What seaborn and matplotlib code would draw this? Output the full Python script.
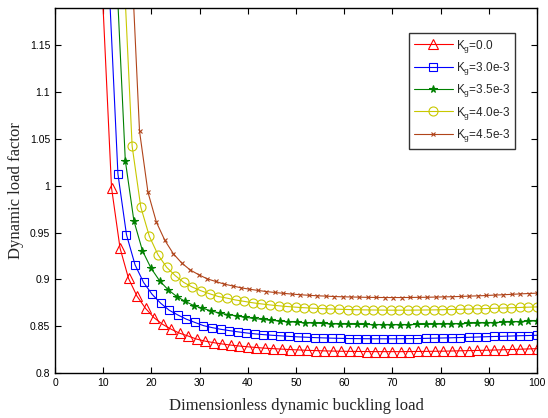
"""Dynamic load factor vs dimensionless dynamic buckling load."""

import seaborn as sns
import matplotlib.pyplot as plt
import pandas as pd
import numpy as np

sns.set_style("ticks")
plt.rcParams['font.family'] = ['Liberation Sans', 'DejaVu Sans']
plt.rcParams['mathtext.fontset'] = 'custom'
plt.rcParams['mathtext.rm'] = 'Liberation Sans'

# ---- data ----
labels = ['K$_\\mathregular{g}$=0.0', 'K$_\\mathregular{g}$=3.0e-3',
          'K$_\\mathregular{g}$=3.5e-3', 'K$_\\mathregular{g}$=4.0e-3',
          'K$_\\mathregular{g}$=4.5e-3']

# sample grid of each curve: first visible point, count (last point at 100)
x_start = [11.72, 13.05, 14.58, 16.00, 17.53]
x_count = [51, 50, 49, 48, 48]
# one point above the top edge so the curves run off the axes
x_lead = [9.43, 10.9, 12.55, 14.1, 15.8]
y_lead = [1.25, 1.25, 1.25, 1.25, 1.25]

y_k00 = [0.998, 0.9335, 0.901, 0.882, 0.869, 0.859, 0.852, 0.8468, 0.8425, 0.8395,
         0.8362, 0.834, 0.8324, 0.831, 0.8298, 0.8288, 0.828, 0.8272, 0.8265, 0.826,
         0.8255, 0.825, 0.8246, 0.8242, 0.8239, 0.8236, 0.8234, 0.8232, 0.8231, 0.823,
         0.8229, 0.8228, 0.8228, 0.8228, 0.8228, 0.8229, 0.823, 0.8231, 0.8232, 0.8233,
         0.8235, 0.8237, 0.8239, 0.8241, 0.8243, 0.8245, 0.8248, 0.8251, 0.8254, 0.8257,
         0.826]
y_k30 = [1.0126, 0.9478, 0.9156, 0.8967, 0.884, 0.8745, 0.867, 0.862, 0.8575, 0.854,
         0.8506, 0.8485, 0.8467, 0.8453, 0.844, 0.8428, 0.8418, 0.841, 0.8403, 0.8397,
         0.8391, 0.8386, 0.8382, 0.8378, 0.8375, 0.8372, 0.837, 0.8368, 0.8367, 0.8366,
         0.8365, 0.8365, 0.8365, 0.8366, 0.8367, 0.8368, 0.837, 0.8372, 0.8374, 0.8376,
         0.8379, 0.8381, 0.8384, 0.8387, 0.839, 0.8392, 0.8395, 0.8398, 0.84, 0.8403]
y_k35 = [1.027, 0.9627, 0.9306, 0.912, 0.8985, 0.8889, 0.8817, 0.8764, 0.872, 0.8692,
         0.8664, 0.864, 0.8624, 0.861, 0.8595, 0.8583, 0.8572, 0.8563, 0.8555, 0.8548,
         0.8542, 0.8537, 0.8533, 0.8529, 0.8526, 0.8523, 0.8521, 0.8519, 0.8518, 0.8517,
         0.8516, 0.8516, 0.8516, 0.8517, 0.8518, 0.8519, 0.8521, 0.8523, 0.8525, 0.8527,
         0.853, 0.8533, 0.8536, 0.8539, 0.8542, 0.8546, 0.855, 0.8554, 0.8557]
y_k40 = [1.0423, 0.9774, 0.946, 0.9263, 0.913, 0.904, 0.8967, 0.8917, 0.8878, 0.8846,
         0.8817, 0.880, 0.878, 0.8765, 0.875, 0.8738, 0.8727, 0.8718, 0.871, 0.8703,
         0.8697, 0.8692, 0.8688, 0.8684, 0.8681, 0.8678, 0.8676, 0.8674, 0.8673, 0.8672,
         0.8671, 0.8671, 0.8671, 0.8672, 0.8673, 0.8674, 0.8676, 0.8678, 0.868, 0.8682,
         0.8685, 0.8688, 0.8691, 0.8694, 0.8697, 0.87, 0.8703, 0.8706]
y_k45 = [1.0584, 0.993, 0.961, 0.9416, 0.9274, 0.9174, 0.910, 0.905, 0.9006, 0.8978,
         0.895, 0.893, 0.891, 0.8895, 0.8882, 0.887, 0.886, 0.8851, 0.8843, 0.8836,
         0.883, 0.8825, 0.8821, 0.8817, 0.8814, 0.8812, 0.881, 0.8808, 0.8807, 0.8806,
         0.8806, 0.8806, 0.8807, 0.8808, 0.8809, 0.8811, 0.8813, 0.8815, 0.8818, 0.8821,
         0.8824, 0.8828, 0.8832, 0.8836, 0.884, 0.8845, 0.8849, 0.8853]
y_all = [y_k00, y_k30, y_k35, y_k40, y_k45]

colors = ['#ff0000', '#0000ff', '#008000', '#c8c800', '#b0441a']
markers = ['^', 's', '*', 'o', 'x']
msizes = [7, 6, 5.5, 6.5, 3.5]
mfaces = ['none', 'none', '#008000', 'none', '#b0441a']

rows = []
for lab, x0, n, xl, yl, ys in zip(labels, x_start, x_count, x_lead, y_lead, y_all):
    xs = np.linspace(x0, 100, n)
    rows.append(pd.DataFrame({'load': np.r_[xl, xs], 'factor': np.r_[yl, ys], 'Kg': lab}))
df = pd.concat(rows, ignore_index=True)

fig = plt.figure(figsize=(5.48, 4.18), dpi=100)
ax = fig.add_axes([0.1004, 0.1077, 0.8796, 0.8733])

for lab, c, m, ms, mf in zip(labels, colors, markers, msizes, mfaces):
    d = df[df['Kg'] == lab]
    sns.lineplot(data=d, x='load', y='factor', ax=ax, color=c, marker=m,
                 markersize=ms, markerfacecolor=mf, markeredgecolor=c,
                 markeredgewidth=0.8, linewidth=0.8, label=lab, estimator=None,
                 sort=False)

ax.set_xlim(0, 100)
ax.set_ylim(0.8, 1.19)
ax.set_xticks(np.arange(0, 101, 10))
ax.set_yticks([0.8, 0.85, 0.9, 0.95, 1.0, 1.05, 1.1, 1.15])
ax.set_yticklabels(['0.8', '0.85', '0.9', '0.95', '1', '1.05', '1.1', '1.15'])
ax.tick_params(direction='in', top=True, right=True, labelsize=7.5, length=4,
               width=0.8, colors='black')
for sp in ax.spines.values():
    sp.set_linewidth(1.0)
    sp.set_color('black')

ax.set_xlabel('Dimensionless dynamic buckling load', family='Liberation Serif',
              fontsize=12, labelpad=7)
ax.set_ylabel('Dynamic load factor', family='Liberation Serif', fontsize=12,
              labelpad=4)

leg = ax.legend(loc='upper left', bbox_to_anchor=(0.734, 0.9315), borderaxespad=0,
                fontsize=8.5, frameon=True, fancybox=False, handlelength=3.3,
                labelspacing=0.45, borderpad=0.4, handletextpad=0.3)
leg.get_frame().set_edgecolor('black')
leg.get_frame().set_linewidth(1.0)

plt.savefig('out.png', dpi=100)
plt.close()
